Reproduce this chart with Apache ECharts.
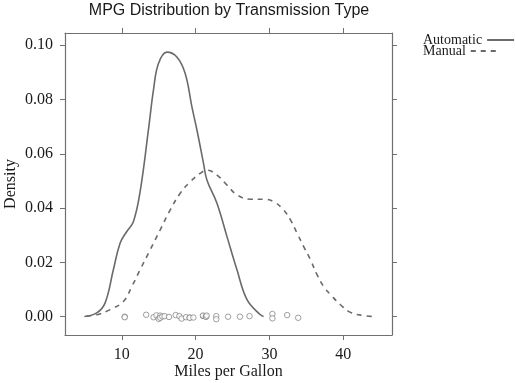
<!DOCTYPE html>
<html><head><meta charset="utf-8">
<script src="https://cdn.jsdelivr.net/npm/echarts@6/dist/echarts.min.js"></script>
<style>html,body{margin:0;padding:0;background:#fff;}#c{width:515px;height:383px;}</style>
</head><body><div id="c"></div>
<script>
// Density curve for automatic transmission (mpg, density)
const autoMpg = [4.93, 6.61, 7.73, 8.86, 9.77, 10.68, 11.57, 12.48, 13.61, 14.29, 14.97, 16.11, 17.46, 18.59, 19.50, 20.18, 21.07, 21.53, 22.89, 24.25, 25.60, 26.96, 28.77, 29.21];
const autoDens = [0.0001, 0.0014, 0.0050, 0.0173, 0.0271, 0.0314, 0.0350, 0.0460, 0.0688, 0.0835, 0.0933, 0.0975, 0.0957, 0.0896, 0.0773, 0.0688, 0.0565, 0.0504, 0.0418, 0.0295, 0.0173, 0.0063, 0.0007, 0.0001];
// Density curve for manual transmission
const manMpg = [5.2, 6.61, 8.41, 10.22, 11.36, 12.48, 13.84, 15.20, 16.55, 17.91, 19.27, 20.62, 21.53, 22.89, 24.25, 25.60, 27.41, 29.21, 30.57, 31.93, 32.84, 33.74, 34.64, 35.55, 36.46, 37.35, 38.49, 39.62, 40.98, 42.78, 44.14];
const manDens = [0.0002, 0.0007, 0.0026, 0.0056, 0.0111, 0.0173, 0.0246, 0.0320, 0.0393, 0.0455, 0.0497, 0.0528, 0.0540, 0.0522, 0.0485, 0.0449, 0.0433, 0.0433, 0.0424, 0.0393, 0.0357, 0.0308, 0.0258, 0.0210, 0.0154, 0.0111, 0.0075, 0.0044, 0.0016, 0.0004, 0.0001];
// Rug of observations (mpg) with their jittered vertical positions
const rugMpg = [10.4, 10.4, 13.3, 14.3, 14.7, 15.0, 15.2, 15.2, 15.5, 15.8, 16.4, 17.3, 17.8, 18.1, 18.7, 19.2, 19.2, 19.7, 21.0, 21.0, 21.4, 21.4, 21.5, 22.8, 22.8, 24.4, 26.0, 27.3, 30.4, 30.4, 32.4, 33.9];
const rugJitter = [0.0000, -0.0002, 0.0007, -0.0002, 0.0005, -0.0008, 0.0004, -0.0004, 0.0001, 0.0002, -0.0001, 0.0006, 0.0002, -0.0007, -0.0002, -0.0003, -0.0004, -0.0003, 0.0003, 0.0004, 0.0002, -0.0001, 0.0004, 0.0002, -0.0009, 0.0000, 0.0000, 0.0002, 0.0010, -0.0006, 0.0006, -0.0004];
const xTicks = [10, 20, 30, 40];
const yTicks = [0, 0.02, 0.04, 0.06, 0.08, 0.10];
const seriesNames = ['Automatic', 'Manual'];
const titleText = 'MPG Distribution by Transmission Type';
const xName = 'Miles per Gallon';
const yName = 'Density';

const GREY = '#6a6a6a';
const FRAME = '#707070';
const SERIF = '"Liberation Serif", "DejaVu Serif", serif';
const SANS = '"Liberation Sans", Arial, sans-serif';

const zip = (a, b) => a.map((v, i) => [v, b[i]]);
const xMin = 2.31, xMax = 46.6, yMin = -0.00674, yMax = 0.10453;

const chart = echarts.init(document.getElementById('c'), null, {renderer: 'canvas'});
const axisCommon = {
  type: 'value', scale: false,
  splitLine: {show: false},
  axisLine: {show: true, onZero: false, lineStyle: {color: FRAME, width: 1.2}},
  axisTick: {show: true, inside: false, length: 5, lineStyle: {color: FRAME, width: 1}},
};
const legendCommon = {
  left: 423, align: 'right', itemWidth: 27, itemHeight: 12, padding: 0,
  itemStyle: {opacity: 0},
  textStyle: {fontFamily: SERIF, fontSize: 14, color: '#1a1a1a'}
};
chart.setOption({
  animation: false,
  backgroundColor: '#fff',
  title: {
    text: titleText, left: 229, top: 3, textAlign: 'center', padding: 0,
    textStyle: {fontFamily: SANS, fontSize: 16, fontWeight: 'normal', color: '#1a1a1a'}
  },
  legend: [
    Object.assign({}, legendCommon, {data: [seriesNames[0]], top: 33}),
    Object.assign({}, legendCommon, {data: [seriesNames[1]], top: 44})
  ],
  grid: {left: 65, top: 33, right: 123, bottom: 48, containLabel: false, outerBoundsMode: 'none'},
  xAxis: [
    Object.assign({}, axisCommon, {
      position: 'bottom', min: xMin, max: xMax,
      axisTick: Object.assign({}, axisCommon.axisTick, {customValues: xTicks}),
      axisLabel: {show: true, customValues: xTicks, margin: 12, fontFamily: SERIF, fontSize: 16, color: '#1a1a1a'},
      name: xName, nameLocation: 'middle', nameGap: 29, nameMoveOverlap: false,
      nameTextStyle: {fontFamily: SERIF, fontSize: 16, color: '#1a1a1a'}
    }),
    Object.assign({}, axisCommon, {
      position: 'top', min: xMin, max: xMax,
      axisTick: Object.assign({}, axisCommon.axisTick, {customValues: xTicks}),
      axisLabel: {show: false}
    })
  ],
  yAxis: [
    Object.assign({}, axisCommon, {
      position: 'left', min: yMin, max: yMax,
      axisTick: Object.assign({}, axisCommon.axisTick, {customValues: yTicks}),
      axisLabel: {show: true, customValues: yTicks, margin: 12, fontFamily: SERIF, fontSize: 16, color: '#1a1a1a',
        formatter: v => v.toFixed(2)},
      name: yName, nameLocation: 'middle', nameGap: 46, nameRotate: 90, nameMoveOverlap: false,
      nameTextStyle: {fontFamily: SERIF, fontSize: 16, color: '#1a1a1a'}
    }),
    Object.assign({}, axisCommon, {
      position: 'right', min: yMin, max: yMax,
      axisTick: Object.assign({}, axisCommon.axisTick, {customValues: yTicks}),
      axisLabel: {show: false}
    })
  ],
  series: [
    {name: seriesNames[0], type: 'line', data: zip(autoMpg, autoDens), smooth: 0.4, symbol: 'none',
     lineStyle: {color: GREY, width: 1.6, type: 'solid'}, itemStyle: {color: GREY}},
    {name: seriesNames[1], type: 'line', data: zip(manMpg, manDens), smooth: 0.4, symbol: 'none',
     lineStyle: {color: GREY, width: 1.6, type: [5, 5]}, itemStyle: {color: GREY}},
    {name: 'obs', type: 'scatter', data: zip(rugMpg, rugJitter), symbol: 'circle', symbolSize: 5.5,
     itemStyle: {color: '#fff', borderColor: '#7a7a7a', borderWidth: 0.9}, z: 1}
  ]
});
</script></body></html>
